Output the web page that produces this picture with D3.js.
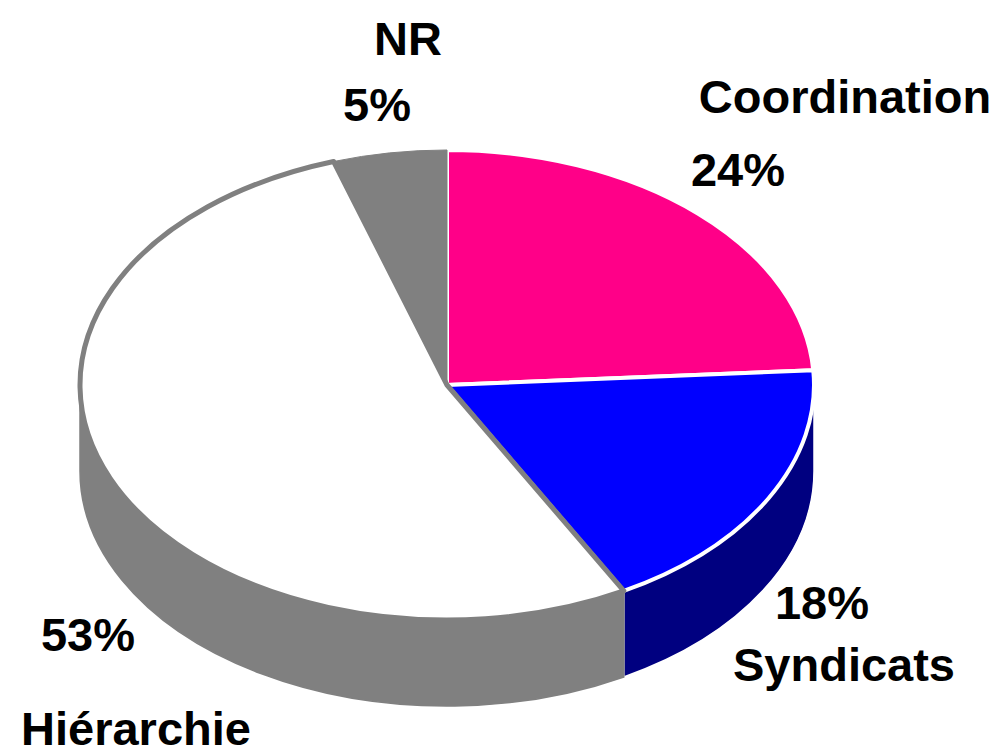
<!DOCTYPE html>
<html>
<head>
<meta charset="utf-8">
<script src="https://cdn.jsdelivr.net/npm/d3@7"></script>
<style>
  body { margin: 0; background: #fff; }
  text { font-family: "Liberation Sans", Arial, sans-serif; font-weight: bold; font-size: 47px; fill: #000; }
</style>
</head>
<body>
<div id="chart"></div>
<script>
// data
const categories = ["Coordination", "Syndicats", "Hiérarchie", "NR"];
const values = [24, 18, 53, 5];
const topColors = ["#FF0088", "#0000FF", "#FFFFFF", "#808080"];
const sideColors = ["#C00066", "#000080", "#808080", "#606060"];
const strokeColors = ["#FFFFFF", "#FFFFFF", "#808080", "#808080"];
// label anchors (name, percent) in pixels
const labelPos = [
    {name: [845, 113], pct: [738, 186]},
    {name: [844, 681], pct: [822, 619]},
    {name: [136, 745], pct: [88, 651]},
    {name: [408, 55], pct: [377, 121]}
];

const width = 1001, height = 751;
const cx = 447, cy = 385, rx = 367, ry = 235, depth = 86;

const svg = d3.select("#chart")
    .append("svg")
    .attr("width", width)
    .attr("height", height);

const pie = d3.pie().sort(null).value(function(d){ return d; });
const arcs = pie(values);

function px(a) { return cx + rx * Math.sin(a); }
function py(a) { return cy - ry * Math.cos(a); }

/* side walls, only the front half (90°..270°) is seen */
const sideG = svg.append("g").attr("class", "sides");
arcs.forEach(function(d, i){
    const a0 = Math.max(d.startAngle, Math.PI / 2);
    const a1 = Math.min(d.endAngle, Math.PI * 3 / 2);
    if (a1 <= a0) return;
    const p = "M" + px(a0) + "," + py(a0) +
        " A" + rx + "," + ry + " 0 0 1 " + px(a1) + "," + py(a1) +
        " L" + px(a1) + "," + (py(a1) + depth) +
        " A" + rx + "," + ry + " 0 0 0 " + px(a0) + "," + (py(a0) + depth) + " Z";
    sideG.append("path")
        .attr("d", p)
        .attr("fill", sideColors[i])
        .attr("stroke", i === 2 ? sideColors[i] : "#fff")
        .attr("stroke-width", 1.5);
});

/* top surface: a circular pie squashed into the ellipse */
const arc = d3.arc().innerRadius(0).outerRadius(rx);
const topG = svg.append("g")
    .attr("transform", "translate(" + cx + "," + cy + ") scale(1," + (ry / rx) + ")");

// draw white slice last so its grey outline sits on top
const order = [0, 1, 3, 2];
order.forEach(function(i){
    topG.append("path")
        .attr("d", arc(arcs[i]))
        .attr("fill", topColors[i])
        .attr("stroke", strokeColors[i])
        .attr("stroke-width", i === 2 ? 5 : (i === 3 ? 1 : 4))
        .attr("stroke-linejoin", "round")
        .attr("vector-effect", "non-scaling-stroke");
});

/* labels */
const labels = svg.append("g").attr("class", "labels");
categories.forEach(function(c, i){
    labels.append("text")
        .attr("x", labelPos[i].name[0])
        .attr("y", labelPos[i].name[1])
        .attr("text-anchor", "middle")
        .text(c);
    labels.append("text")
        .attr("x", labelPos[i].pct[0])
        .attr("y", labelPos[i].pct[1])
        .attr("text-anchor", "middle")
        .text(values[i] + "%");
});
</script>
</body>
</html>
